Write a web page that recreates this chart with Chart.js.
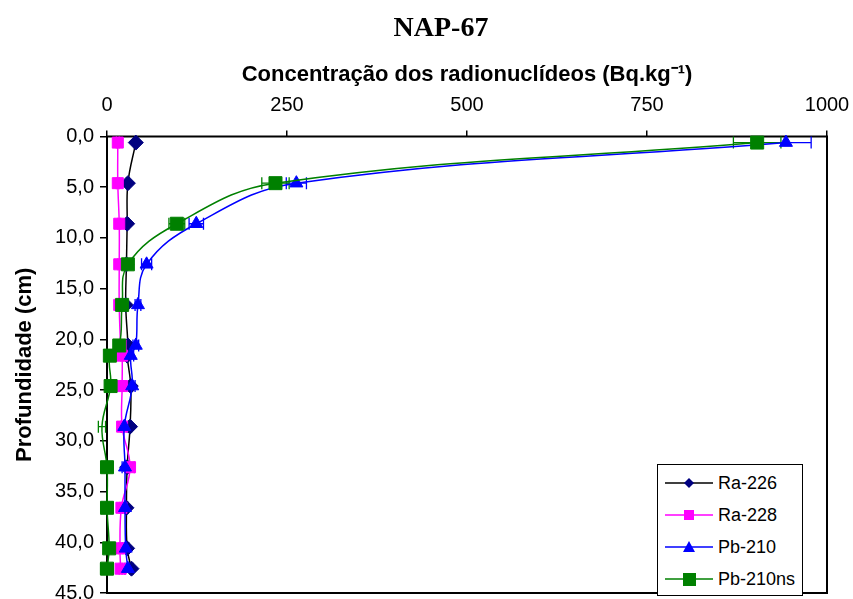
<!DOCTYPE html>
<html>
<head>
<meta charset="utf-8">
<script src="https://cdn.jsdelivr.net/npm/chart.js@4.4.0/dist/chart.umd.min.js"></script>
<style>
html,body{margin:0;padding:0;background:#fff;overflow:hidden;width:853px;height:599px;}
#wrap{position:relative;width:853px;height:599px;overflow:hidden;}
#c{position:absolute;left:0;top:0;}
#title{position:absolute;left:341px;top:9px;width:200px;text-align:center;font-family:'Liberation Serif','Times New Roman',serif;font-weight:bold;font-size:28px;line-height:36px;color:#000;}
#legend{position:absolute;left:657px;top:464px;width:144px;height:130px;border:1px solid #000;background:#fff;font-family:'Liberation Sans',Arial,sans-serif;font-size:18px;color:#000;}
.row{position:absolute;left:0;height:32px;width:144px;}
.row svg{position:absolute;left:7px;top:0;}
.row span{position:absolute;left:60px;top:5px;line-height:22px;white-space:nowrap;}
</style>
</head>
<body>
<div id="wrap">
<canvas id="c" width="853" height="611"></canvas>
<div id="title">NAP-67</div>
<div id="legend"></div>
</div>
<script>
// ---- data ----
const depths      = [0.6, 4.6, 8.6, 12.6, 16.6, 20.6, 21.6, 24.6, 28.6, 32.6, 36.6, 40.6, 42.6];
const ra226       = [40, 29, 28, 27, 26, 29, 28, 33, 32, 28, 27, 28, 34];
const ra226Err    = [2, 2, 2, 2, 2, 2, 2, 2, 2, 2, 2, 2, 2];
const ra228       = [15, 15, 17, 17, 17, 19, 21, 21, 21, 32, 20, 18, 19];
const ra228Err    = [2, 2, 2, 2, 2, 2, 2, 2, 2, 6, 2, 2, 2];
const pb210       = [943, 263, 124, 55, 43, 40, 33, 35, 24, 25, 25, 26, 29];
const pb210Err    = [35, 14, 10, 7, 4, 4, 4, 4, 4, 4, 4, 4, 4];
const pb210ns     = [903, 234, 97, 29, 21, 17, 4, 5, -7, 0, 0, 3, 0];
const pb210nsErr  = [33, 19, 11, 4, 3, 3, 3, 3, 5, 3, 3, 3, 9];
const seriesNames = ['Ra-226', 'Ra-228', 'Pb-210', 'Pb-210ns'];
const xTicks      = [0, 250, 500, 750, 1000];
const xTickLabels = ['0', '250', '500', '750', '1000'];
const yTicks      = [0, 5, 10, 15, 20, 25, 30, 35, 40, 45];
const yTickLabels = ['0,0', '5,0', '10,0', '15,0', '20,0', '25,0', '30,0', '35,0', '40,0', '45,0'];
const chartTitle  = 'NAP-67';
const xTitle      = 'Concentração dos radionuclídeos (Bq.kg⁻¹)';
const yTitle      = 'Profundidade (cm)';

const FONT = "'Liberation Sans', Arial, sans-serif";
document.getElementById('title').textContent = chartTitle;

function makeDs(label, xs, errs, marker, line, style, radius, order) {
  return {
    label: label,
    data: depths.map((d, i) => ({x: xs[i], y: d})),
    errors: errs,
    errColor: line,
    borderColor: line,
    backgroundColor: marker,
    pointBackgroundColor: marker,
    pointBorderColor: marker,
    pointStyle: style,
    // markers outside the axis range are hidden (as in the original)
    pointRadius: c => (c.raw && c.raw.x < 0) ? 0 : radius,
    pointHoverRadius: radius,
    pointBorderWidth: 1,
    borderWidth: 1.5,
    showLine: true,
    tension: 0.4,
    clip: {left: 12, top: 10, right: 10, bottom: 10},
    order: order
  };
}

const series = [
  makeDs(seriesNames[0], ra226, ra226Err, '#000080', '#000000', 'rectRot', 7.5, 3),
  makeDs(seriesNames[1], ra228, ra228Err, '#FF00FF', '#FF00FF', 'rect', 7.8, 2),
  makeDs(seriesNames[2], pb210, pb210Err, '#0000FF', '#0000FF', 'triangle', 7.5, 1),
  makeDs(seriesNames[3], pb210ns, pb210nsErr, '#008000', '#008000', 'rect', 9.2, 0)
];

// HTML legend built from the series
const legendMarkers = [
  '<polygon points="24,11 29,16 24,21 19,16" fill="#000080"/>',
  '<rect x="19" y="11" width="10" height="10" fill="#FF00FF"/>',
  '<polygon points="24,10 30,21 18,21" fill="#0000FF"/>',
  '<rect x="18" y="10" width="13" height="13" fill="#008000"/>'
];
const legendLines = ['#000000', '#FF00FF', '#0000FF', '#008000'];
const lg = document.getElementById('legend');
seriesNames.forEach((n, i) => {
  const r = document.createElement('div');
  r.className = 'row';
  r.style.top = (2 + i * 32) + 'px';
  r.innerHTML = '<svg width="50" height="32"><line x1="0" y1="16" x2="48" y2="16" stroke="' + legendLines[i] + '" stroke-width="1.5"/>' + legendMarkers[i] + '</svg>';
  const s = document.createElement('span');
  s.textContent = n;
  r.appendChild(s);
  lg.appendChild(r);
});

const errorBars = {
  id: 'errorBars',
  beforeDatasetsDraw(chart) {
    const {ctx, chartArea, scales} = chart;
    const xs = scales.x, ys = scales.y;
    ctx.save();
    ctx.beginPath();
    ctx.rect(chartArea.left - 12, chartArea.top - 1, chartArea.width + 13, chartArea.height + 2);
    ctx.clip();
    chart.data.datasets.forEach(ds => {
      ctx.strokeStyle = ds.errColor;
      ctx.lineWidth = 1.3;
      ds.data.forEach((p, i) => {
        const e = ds.errors[i];
        const py = ys.getPixelForValue(p.y);
        const x1 = xs.getPixelForValue(p.x - e);
        const x2 = xs.getPixelForValue(p.x + e);
        ctx.beginPath();
        ctx.moveTo(x1, py); ctx.lineTo(x2, py);
        ctx.moveTo(x1, py - 6); ctx.lineTo(x1, py + 6);
        ctx.moveTo(x2, py - 6); ctx.lineTo(x2, py + 6);
        ctx.stroke();
      });
    });
    ctx.restore();
  }
};

const frame = {
  id: 'frame',
  beforeDatasetsDraw(chart) {
    const {ctx, chartArea} = chart;
    ctx.save();
    ctx.strokeStyle = '#000';
    ctx.lineWidth = 2;
    ctx.strokeRect(chartArea.left, chartArea.top, chartArea.width, chartArea.height);
    ctx.restore();
  }
};

new Chart(document.getElementById('c'), {
  type: 'scatter',
  data: { datasets: series },
  plugins: [frame, errorBars],
  options: {
    responsive: false,
    animation: false,
    layout: { padding: { top: 50, left: 0, right: 26, bottom: 0 } },
    plugins: { legend: { display: false }, tooltip: { enabled: false }, title: { display: false } },
    scales: {
      x: {
        type: 'linear', position: 'top', min: 0, max: 1000,
        afterBuildTicks: s => { s.ticks = xTicks.map(v => ({value: v})); },
        ticks: { callback: (v, i) => xTickLabels[i], font: { family: FONT, size: 20 }, color: '#000', padding: 13, maxRotation: 0, autoSkip: false },
        grid: { drawOnChartArea: false, drawTicks: true, tickLength: 6, color: '#000', lineWidth: 1.5 },
        border: { display: false },
        title: { display: true, text: xTitle, font: { family: FONT, size: 22, weight: 'bold' }, color: '#000', padding: { top: 12, bottom: 0 } },
        afterFit: s => { s.height = 86.5; s.paddingLeft = 0; s.paddingRight = 0; }
      },
      y: {
        type: 'linear', position: 'left', reverse: true, min: 0, max: 45,
        afterBuildTicks: s => { s.ticks = yTicks.map(v => ({value: v})); },
        ticks: { callback: (v, i) => yTickLabels[i], font: { family: FONT, size: 20 }, color: '#000', padding: 6, autoSkip: false },
        grid: { drawOnChartArea: false, drawTicks: true, tickLength: 7, color: '#000', lineWidth: 1.5 },
        border: { display: false },
        title: { display: true, text: yTitle, font: { family: FONT, size: 22, weight: 'bold' }, color: '#000', padding: { top: 12, bottom: 0 } },
        afterFit: s => { s.width = 107; }
      }
    }
  }
});
</script>
</body>
</html>
